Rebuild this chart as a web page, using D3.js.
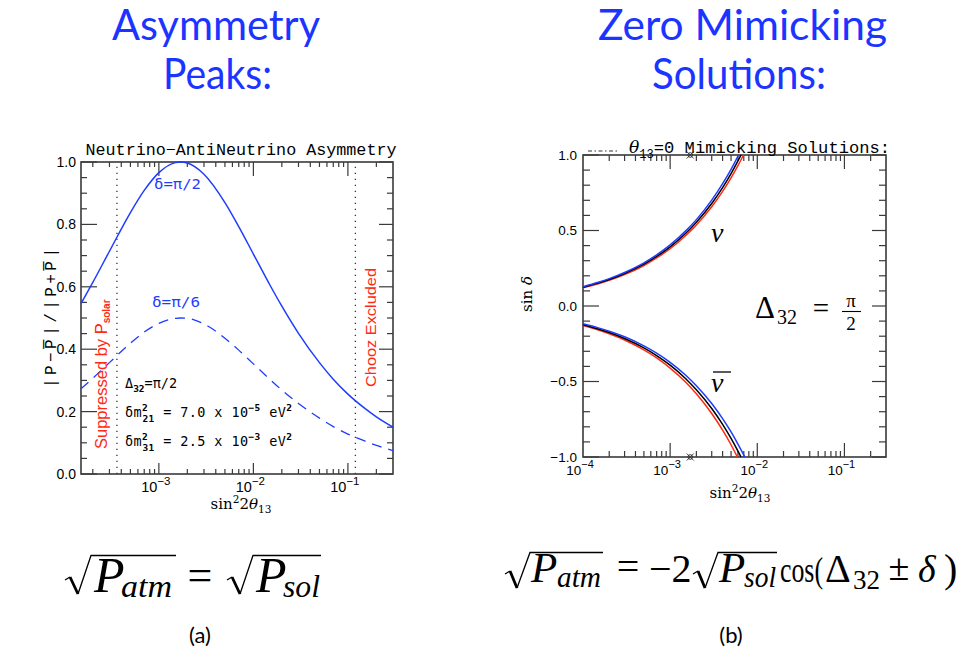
<!DOCTYPE html>
<html><head><meta charset="utf-8">
<script src="https://cdn.jsdelivr.net/npm/d3@7"></script>
<style>body{margin:0;background:#fff}svg{display:block}</style>
</head><body>
<svg id="c" width="966" height="657"></svg>
<script>
// ---------------- Panel (a) data: Neutrino-AntiNeutrino asymmetry ----------------
const asymX = [1.5e-4,2e-4,3e-4,5e-4,7e-4,1e-3,1.5e-3,1.7e-3,2e-3,3e-3,5e-3,7e-3,1e-2,1.5e-2,2e-2,3e-2,5e-2,7e-2,0.1,0.15,0.2,0.3];
const asymDeltaPi2 = [0.546,0.614,0.714,0.838,0.909,0.966,0.998,1.000,0.997,0.961,0.870,0.793,0.705,0.605,0.538,0.451,0.357,0.304,0.256,0.211,0.183,0.150];
const asymDeltaPi6 = [0.273,0.307,0.357,0.419,0.455,0.483,0.499,0.500,0.499,0.481,0.435,0.397,0.353,0.303,0.269,0.226,0.179,0.152,0.128,0.106,0.092,0.075];
const boundaryX = [3.6e-4, 0.12];
const aXMajor = [1e-3,1e-2,1e-1];
const aXExp = ["\u22123","\u22122","\u22121"];
const aYMajor = [0,0.2,0.4,0.6,0.8,1.0];
const aYLabels = ["0.0","0.2","0.4","0.6","0.8","1.0"];

// ---------------- Panel (b) data: theta13 = 0 mimicking solutions ----------------
const nuBlueX  = [1e-4,1.5e-4,2e-4,3e-4,5e-4,7e-4,1e-3,1.5e-3,2e-3,3e-3,4e-3,5e-3,6.1e-3];
const nuBlueY  = [0.128,0.157,0.181,0.222,0.286,0.339,0.405,0.496,0.572,0.701,0.810,0.905,1.0];
const nuBlackX = [1e-4,1.5e-4,2e-4,3e-4,5e-4,7e-4,1e-3,1.5e-3,2e-3,3e-3,4e-3,5e-3,6e-3,6.5e-3];
const nuBlackY = [0.124,0.152,0.175,0.215,0.277,0.328,0.392,0.480,0.555,0.679,0.784,0.877,0.961,1.0];
const nuRedX   = [1e-4,1.5e-4,2e-4,3e-4,5e-4,7e-4,1e-3,1.5e-3,2e-3,3e-3,4e-3,5e-3,6e-3,6.95e-3];
const nuRedY   = [0.120,0.147,0.170,0.208,0.268,0.318,0.379,0.465,0.537,0.657,0.759,0.849,0.930,1.0];
const nubarBlueX  = [1e-4,1.5e-4,2e-4,3e-4,5e-4,7e-4,1e-3,1.5e-3,2e-3,3e-3,4e-3,5e-3,6e-3,7.2e-3];
const nubarBlueY  = [-0.118,-0.145,-0.167,-0.204,-0.264,-0.312,-0.373,-0.457,-0.528,-0.646,-0.746,-0.834,-0.914,-1.0];
const nubarBlackX = [1e-4,1.5e-4,2e-4,3e-4,5e-4,7e-4,1e-3,1.5e-3,2e-3,3e-3,4e-3,5e-3,6e-3,6.5e-3];
const nubarBlackY = [-0.124,-0.152,-0.175,-0.215,-0.277,-0.328,-0.392,-0.480,-0.555,-0.679,-0.784,-0.877,-0.961,-1.0];
const nubarRedX   = [1e-4,1.5e-4,2e-4,3e-4,5e-4,7e-4,1e-3,1.5e-3,2e-3,3e-3,4e-3,5e-3,5.9e-3];
const nubarRedY   = [-0.130,-0.159,-0.184,-0.225,-0.291,-0.344,-0.411,-0.503,-0.581,-0.712,-0.822,-0.919,-1.0];
const markerX = [1.7e-3];
const bXMajor = [1e-4,1e-3,1e-2,1e-1];
const bXExp = ["\u22124","\u22123","\u22122","\u22121"];
const bYMajor = [-1,-0.5,0,0.5,1];
const bYLabels = ["\u22121.0","\u22120.5","0.0","0.5","1.0"];

const BLUE = "#1f3dff", RED = "#ff2a12", HEAD = "#1c34ff";
const svg = d3.select("#c");

function minorsFor(domain){
  const out=[]; const lo=Math.floor(Math.log10(domain[0])), hi=Math.ceil(Math.log10(domain[1]));
  for(let e=lo;e<=hi;e++) for(let m=2;m<=9;m++){const v=m*Math.pow(10,e); if(v>domain[0]*1.0001 && v<domain[1]*0.9999) out.push(v);}
  return out;
}
function frame(g,x,y,o){
  const [x0,x1]=x.range(), [y0,y1]=y.range();
  const line=(a,b,c,d,w)=>g.append("line").attr("x1",a).attr("y1",b).attr("x2",c).attr("y2",d).attr("stroke","#3a3a3a").attr("stroke-width",w||1.2);
  o.xMajor.forEach(v=>{const px=x(v); line(px,y0,px,y0-o.xMajLenB); line(px,y1,px,y1+o.xMajLenT);});
  minorsFor(x.domain()).forEach(v=>{const px=x(v); line(px,y0,px,y0-o.xMinLen); line(px,y1,px,y1+o.xMinLen);});
  o.yMajor.forEach(v=>{const py=y(v); line(x0,py,x0+o.yMajLenL,py); line(x1,py,x1-o.yMajLenR,py);});
  o.yMinor.forEach(v=>{const py=y(v); line(x0,py,x0+o.yMinLen,py); line(x1,py,x1-o.yMinLen,py);});
  g.append("rect").attr("x",x0).attr("y",y1).attr("width",x1-x0).attr("height",y0-y1)
   .attr("fill","none").attr("stroke","#3a3a3a").attr("stroke-width",1.6);
}

// ---------------- headings ----------------
function heading(txt,cx,base,w){
  svg.append("text").attr("x",cx).attr("y",base).attr("text-anchor","middle")
   .attr("font-family","Lato, 'Open Sans', sans-serif").attr("font-size",43).attr("fill",HEAD)
   .attr("textLength",w).attr("lengthAdjust","spacingAndGlyphs").text(txt);
}
heading("Asymmetry",216,40,208);
heading("Peaks:",217.5,89,109);
heading("Zero Mimicking",742.5,40,289);
heading("Solutions:",739,89,174);

// ---------------- Panel (a) ----------------
const ga = svg.append("g");
const xa = d3.scaleLog().domain([1.5e-4,0.3]).range([81,393]);
const ya = d3.scaleLinear().domain([0,1]).range([474,162]);
const aYMinor = d3.range(0,1.0001,0.05).map(v=>+v.toFixed(2)).filter(v=>!aYMajor.includes(v));
frame(ga,xa,ya,{xMajor:aXMajor,xMajLenB:11,xMajLenT:14,xMinLen:5,yMajor:aYMajor,yMajLenL:16,yMajLenR:14,yMinor:aYMinor,yMinLen:6});

boundaryX.forEach(v=>{
  ga.append("line").attr("x1",xa(v)).attr("x2",xa(v)).attr("y1",ya(0)).attr("y2",ya(1))
   .attr("stroke","#333").attr("stroke-width",1.3).attr("stroke-dasharray","1.3,4.7");
});

const lineA = d3.line().x(d=>xa(d[0])).y(d=>ya(d[1])).curve(d3.curveMonotoneX);
ga.append("path").attr("d",lineA(d3.zip(asymX,asymDeltaPi2))).attr("fill","none").attr("stroke",BLUE).attr("stroke-width",1.5);
ga.append("path").attr("d",lineA(d3.zip(asymX,asymDeltaPi6))).attr("fill","none").attr("stroke",BLUE).attr("stroke-width",1.3).attr("stroke-dasharray","10,7");

aYMajor.forEach((v,i)=>{
  ga.append("text").attr("x",76).attr("y",ya(v)+5).attr("text-anchor","end")
   .attr("font-family","'Liberation Sans', Arial, sans-serif").attr("font-size",14).attr("fill","#000").text(aYLabels[i]);
});
aXMajor.forEach((v,i)=>{
  const t=ga.append("text").attr("x",xa(v)-3).attr("y",492).attr("text-anchor","middle")
   .attr("font-family","'Liberation Sans', Arial, sans-serif").attr("font-size",14.5).attr("fill","#000");
  t.append("tspan").text("10");
  t.append("tspan").attr("dy",-7).attr("font-size",11.5).text(aXExp[i]);
});
{
  const t=ga.append("text").attr("x",241).attr("y",509).attr("text-anchor","middle")
   .attr("font-family","'DejaVu Serif', 'Liberation Serif', serif").attr("font-size",15).attr("fill","#000");
  t.append("tspan").text("sin");
  t.append("tspan").attr("dy",-6).attr("font-size",10.5).text("2");
  t.append("tspan").attr("dy",6).text("2");
  t.append("tspan").attr("font-style","italic").text("\u03b8");
  t.append("tspan").attr("dy",4).attr("font-size",10.5).text("13");
}
ga.append("text").attr("transform","translate(56,318) rotate(-90)").attr("text-anchor","middle")
  .attr("font-family","'Liberation Mono', 'DejaVu Sans Mono', monospace").attr("font-size",16).attr("fill","#000")
  .attr("textLength",140).attr("lengthAdjust","spacing")
  .text("|P\u2212P\u0305|/|P+P\u0305|");
ga.append("text").attr("x",241).attr("y",155).attr("text-anchor","middle")
  .attr("font-family","'Liberation Mono', 'DejaVu Sans Mono', monospace").attr("font-size",16.5).attr("fill","#000")
  .attr("textLength",311).attr("lengthAdjust","spacingAndGlyphs")
  .text("Neutrino\u2212AntiNeutrino Asymmetry");

const monoF="'DejaVu Sans Mono', 'Liberation Mono', monospace";
ga.append("text").attr("x",154).attr("y",189).attr("font-family",monoF).attr("font-size",13.5).attr("fill",BLUE)
  .attr("textLength",47).attr("lengthAdjust","spacingAndGlyphs").text("\u03b4=\u03c0/2");
ga.append("text").attr("x",152).attr("y",307).attr("font-family",monoF).attr("font-size",13.5).attr("fill",BLUE)
  .attr("textLength",48).attr("lengthAdjust","spacingAndGlyphs").text("\u03b4=\u03c0/6");
{
  const t=ga.append("text").attr("x",125).attr("y",388).attr("font-family",monoF).attr("font-size",13.5).attr("fill","#000");
  t.append("tspan").text("\u0394");
  t.append("tspan").attr("dy",4).attr("font-size",9.5).attr("font-weight","bold").text("32");
  t.append("tspan").attr("dy",-4).text("=\u03c0/2");
}
function dmLine(y,sub,val,exp){
  const t=ga.append("text").attr("x",125).attr("y",y).attr("font-family",monoF).attr("font-size",13.5).attr("fill","#000")
    .attr("textLength",167).attr("lengthAdjust","spacing");
  t.append("tspan").text("\u03b4m");
  t.append("tspan").attr("dy",-6).attr("font-size",9.5).attr("font-weight","bold").text("2");
  t.append("tspan").attr("dx",-5.7).attr("dy",11).attr("font-size",9.5).attr("font-weight","bold").text(sub);
  t.append("tspan").attr("dy",-5).text(" = "+val+" x 10");
  t.append("tspan").attr("dy",-6).attr("font-size",9.5).attr("font-weight","bold").text(exp);
  t.append("tspan").attr("dy",6).text(" eV");
  t.append("tspan").attr("dy",-6).attr("font-size",9.5).attr("font-weight","bold").text("2");
}
dmLine(417,"21","7.0","\u22125");
dmLine(446,"31","2.5","\u22123");

{
  const t=ga.append("text").attr("transform","translate(107,449) rotate(-90)")
    .attr("font-family","'Liberation Sans', Arial, sans-serif").attr("font-size",16.5).attr("fill",RED);
  t.append("tspan").text("Suppressed by P");
  t.append("tspan").attr("dy",3).attr("font-size",10).attr("font-weight","bold").text("solar");
}
ga.append("text").attr("transform","translate(376,387) rotate(-90)")
  .attr("font-family","'Liberation Sans', Arial, sans-serif").attr("font-size",15.5).attr("fill",RED)
  .attr("textLength",119).attr("lengthAdjust","spacingAndGlyphs").text("Chooz Excluded");

// ---------------- Panel (b) ----------------
const gb = svg.append("g");
const xb = d3.scaleLog().domain([1e-4,0.3]).range([583,886]);
const yb = d3.scaleLinear().domain([-1,1]).range([457,155]);
const bYMinor = d3.range(-1,1.0001,0.1).map(v=>+v.toFixed(1)).filter(v=>!bYMajor.includes(v));
frame(gb,xb,yb,{xMajor:bXMajor.filter(v=>v>1e-4),xMajLenB:14,xMajLenT:14,xMinLen:6,yMajor:bYMajor,yMajLenL:16,yMajLenR:14,yMinor:bYMinor,yMinLen:7});

const lineB = d3.line().x(d=>xb(d[0])).y(d=>yb(d[1])).curve(d3.curveMonotoneX);
const curvesB = [
  [nuRedX,nuRedY,RED],[nuBlackX,nuBlackY,"#000"],[nuBlueX,nuBlueY,BLUE],
  [nubarRedX,nubarRedY,RED],[nubarBlackX,nubarBlackY,"#000"],[nubarBlueX,nubarBlueY,BLUE]
];
curvesB.forEach(([xs,ys,c])=>{
  gb.append("path").attr("d",lineB(d3.zip(xs,ys))).attr("fill","none").attr("stroke",c).attr("stroke-width",1.5);
});
markerX.forEach(v=>{
  [yb(1),yb(-1)].forEach(py=>{
    const px=xb(v);
    gb.append("circle").attr("cx",px).attr("cy",py).attr("r",2.3).attr("fill","none").attr("stroke","#333").attr("stroke-width",1);
    gb.append("path").attr("d",`M${px-3.5},${py-3.5}L${px+3.5},${py+3.5}M${px-3.5},${py+3.5}L${px+3.5},${py-3.5}`).attr("stroke","#333").attr("stroke-width",0.9);
  });
});

bYMajor.forEach((v,i)=>{
  gb.append("text").attr("x",577).attr("y",yb(v)+4.5).attr("text-anchor","end")
   .attr("font-family","'Liberation Sans', Arial, sans-serif").attr("font-size",13.5).attr("fill","#000").text(bYLabels[i]);
});
bXMajor.forEach((v,i)=>{
  const t=gb.append("text").attr("x",xb(v)-3).attr("y",475).attr("text-anchor","middle")
   .attr("font-family","'Liberation Sans', Arial, sans-serif").attr("font-size",13.5).attr("fill","#000");
  t.append("tspan").text("10");
  t.append("tspan").attr("dy",-7).attr("font-size",11).text(bXExp[i]);
});
{
  const t=gb.append("text").attr("x",740).attr("y",498).attr("text-anchor","middle")
   .attr("font-family","'DejaVu Serif', 'Liberation Serif', serif").attr("font-size",15).attr("fill","#000");
  t.append("tspan").text("sin");
  t.append("tspan").attr("dy",-6).attr("font-size",10.5).text("2");
  t.append("tspan").attr("dy",6).text("2");
  t.append("tspan").attr("font-style","italic").text("\u03b8");
  t.append("tspan").attr("dy",4).attr("font-size",10.5).text("13");
}
{
  const t=gb.append("text").attr("transform","translate(532,294) rotate(-90)").attr("text-anchor","middle")
   .attr("font-family","'DejaVu Serif', 'Liberation Serif', serif").attr("font-size",15).attr("fill","#000");
  t.append("tspan").text("sin ");
  t.append("tspan").attr("font-style","italic").text("\u03b4");
}
gb.append("line").attr("x1",588).attr("x2",619).attr("y1",151).attr("y2",151).attr("stroke","#333").attr("stroke-width",1).attr("stroke-dasharray","4,2.5,1.5,2.5");
{
  const t=gb.append("text").attr("x",629).attr("y",153)
   .attr("font-family","'Liberation Mono', 'DejaVu Sans Mono', monospace").attr("font-size",17).attr("fill","#000")
   .attr("textLength",261).attr("lengthAdjust","spacingAndGlyphs");
  t.append("tspan").attr("font-family","'DejaVu Serif', serif").attr("font-style","italic").text("\u03b8");
  t.append("tspan").attr("dy",5).attr("font-size",12).text("13");
  t.append("tspan").attr("dy",-5).text("=0 Mimicking Solutions:");
}
gb.append("text").attr("x",711).attr("y",242).attr("font-family","'Liberation Serif', 'DejaVu Serif', serif")
  .attr("font-style","italic").attr("font-size",28).attr("fill","#000").text("\u03bd");
gb.append("text").attr("x",711).attr("y",392).attr("font-family","'Liberation Serif', 'DejaVu Serif', serif")
  .attr("font-style","italic").attr("font-size",28).attr("fill","#000").text("\u03bd");
gb.append("line").attr("x1",713).attr("x2",731).attr("y1",372).attr("y2",372).attr("stroke","#000").attr("stroke-width",1.3);
{
  const sF="'Liberation Serif', 'DejaVu Serif', serif";
  gb.append("text").attr("x",755).attr("y",318).attr("font-family",sF).attr("font-size",31).attr("fill","#000").text("\u0394");
  gb.append("text").attr("x",777).attr("y",324).attr("font-family",sF).attr("font-size",20).attr("fill","#000").text("32");
  gb.append("text").attr("x",821).attr("y",318).attr("text-anchor","middle").attr("font-family",sF).attr("font-size",29).attr("fill","#000").text("=");
  gb.append("text").attr("x",851).attr("y",307).attr("text-anchor","middle").attr("font-family",sF).attr("font-size",19).attr("fill","#000").text("\u03c0");
  gb.append("line").attr("x1",842).attr("x2",861).attr("y1",311.5).attr("y2",311.5).attr("stroke","#000").attr("stroke-width",1.1);
  gb.append("text").attr("x",851).attr("y",330).attr("text-anchor","middle").attr("font-family",sF).attr("font-size",19).attr("fill","#000").text("2");
}

// ---------------- formulas ----------------
const gf = svg.append("g");
const fF="'Liberation Serif', 'DejaVu Serif', serif";
function radical(x0,yTip,yBot,xV,xTop,yTop,xEnd){
  gf.append("path").attr("d",`M${x0},${yTip+3}L${x0+5},${yTip}`).attr("stroke","#000").attr("stroke-width",1.3).attr("fill","none");
  gf.append("path").attr("d",`M${x0+5},${yTip}L${xV},${yBot}`).attr("stroke","#000").attr("stroke-width",2.8).attr("fill","none");
  gf.append("path").attr("d",`M${xV},${yBot}L${xTop},${yTop}L${xEnd},${yTop}`).attr("stroke","#000").attr("stroke-width",1.3).attr("fill","none");
}
function ftxt(s,x,y,size,italic,w,anchor){
  const t=gf.append("text").attr("x",x).attr("y",y).attr("font-family",fF).attr("font-size",size).attr("fill","#000").text(s);
  if(italic) t.attr("font-style","italic");
  if(w) t.attr("textLength",w).attr("lengthAdjust","spacingAndGlyphs");
  if(anchor) t.attr("text-anchor",anchor);
  return t;
}
// (a)
radical(65,577,594,78,91,555.5,176);
ftxt("P",94,592,50,true);
ftxt("atm",121,597,32,true,51);
ftxt("=",200,590,44,false,null,"middle");
radical(227,577,594,240,253,555.5,321);
ftxt("P",256,592,50,true);
ftxt("sol",283,597,32,true,37);
// (b)
radical(505,571,588,517,530,552.5,603);
ftxt("P",531,582,43,true);
ftxt("atm",557,587,29,true,44);
ftxt("=",628,580,40,false,null,"middle");
ftxt("\u22122",649,582,40,false);
radical(693,571,588,705,718,552.5,777);
ftxt("P",719,582,43,true);
ftxt("sol",744,587,29,true,32);
ftxt("cos(",780,582,35,false,43);
ftxt("\u0394",825,582,40,false);
ftxt("32",853,589,27,false);
ftxt("\u00b1",899,580,38,false,null,"middle");
ftxt("\u03b4",918,582,38,true);
ftxt(")",944,582,40,false);

svg.append("text").attr("x",200).attr("y",643).attr("text-anchor","middle").attr("font-family","Lato, 'Open Sans', sans-serif")
  .attr("font-size",22).attr("fill","#000").text("(a)");
svg.append("text").attr("x",731).attr("y",643).attr("text-anchor","middle").attr("font-family","Lato, 'Open Sans', sans-serif")
  .attr("font-size",22).attr("fill","#000").text("(b)");
</script>
</body></html>
